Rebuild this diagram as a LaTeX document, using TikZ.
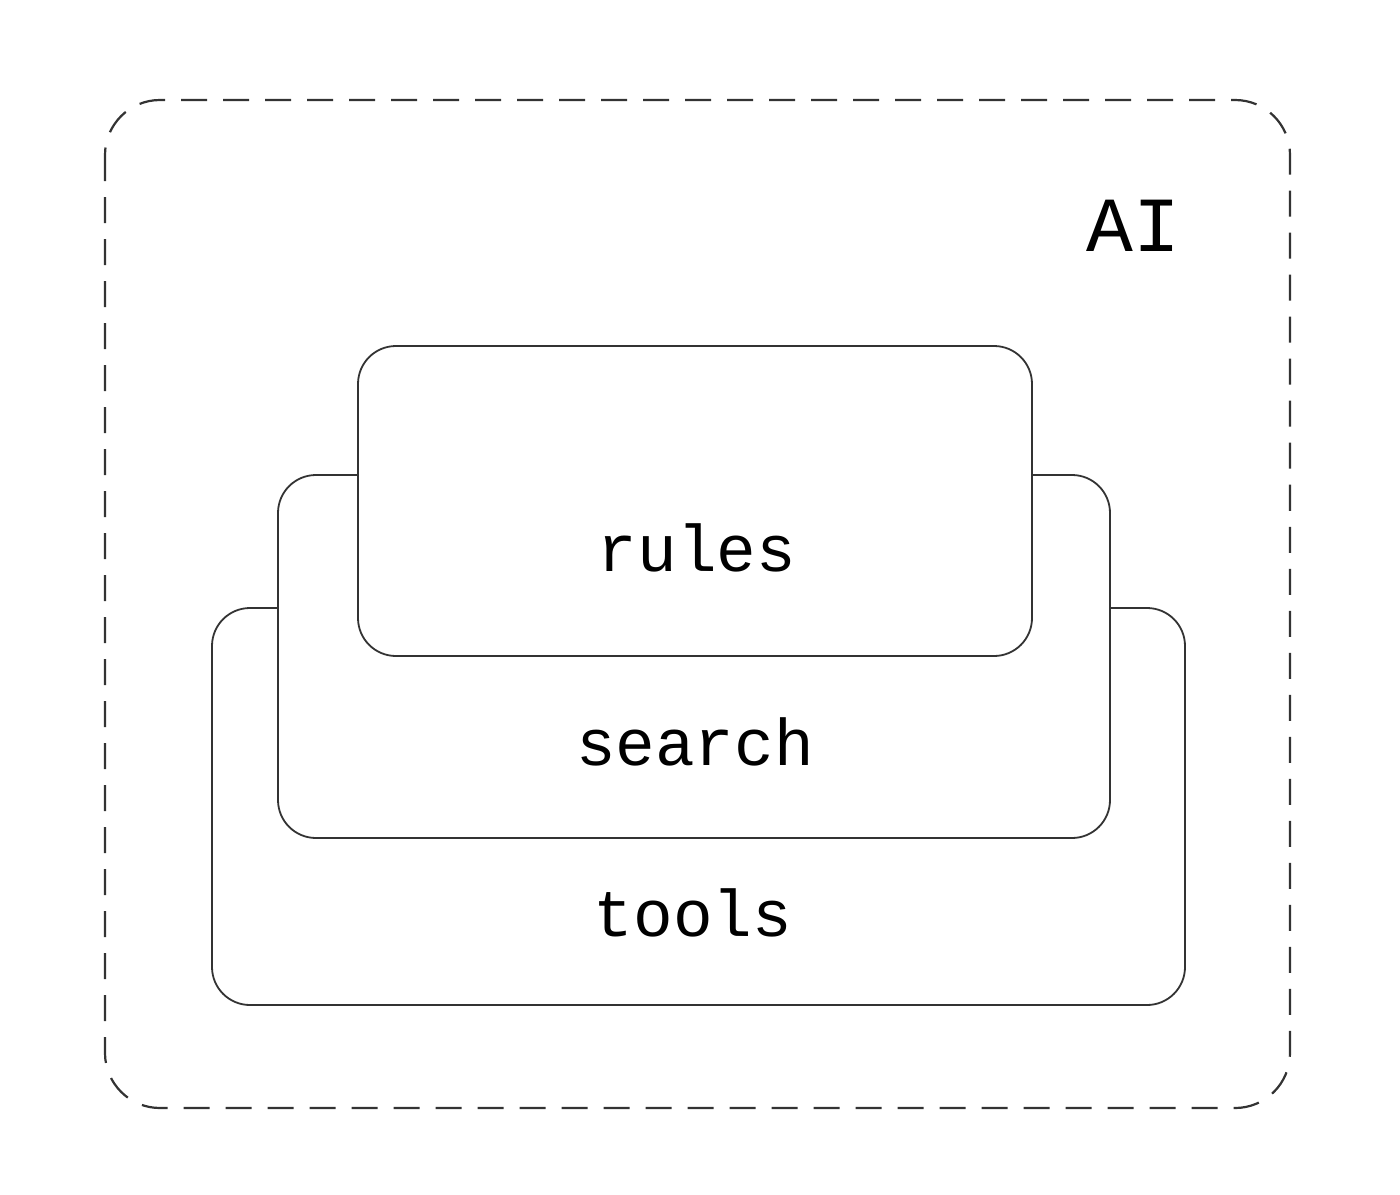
\documentclass[tikz,border=0pt]{standalone}
\usepackage{fontspec}
\setmonofont{Liberation Mono}
\begin{document}
\begin{tikzpicture}[x=1pt,y=-1pt,
  box/.style={draw=black!80,line width=1.8pt,fill=white,rounded corners=38pt},
  lab/.style={font=\ttfamily\fontsize{66}{68}\selectfont,text=black}]
\useasboundingbox (0,0) rectangle (1400,1194);
\draw[black!80,line width=2.2pt,dash pattern=on 26pt off 16pt,rounded corners=55pt] (105,100) rectangle (1290,1108);
\node[font=\ttfamily\fontsize{78}{80}\selectfont] (ai) at (1133,226) {AI};
\draw[box] (212,608) rectangle (1185,1005);
\draw[box] (278,475) rectangle (1110,838);
\draw[box] (358,346) rectangle (1032,656);
\node[lab] (rules) at (697,548) {rules};
\node[lab] (search) at (695,742) {search};
\node[lab] (tools) at (693,913) {tools};
\end{tikzpicture}
\end{document}
